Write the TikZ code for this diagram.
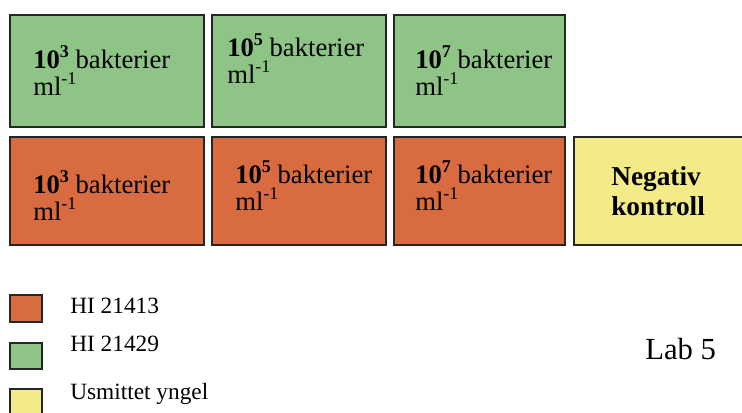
\documentclass[tikz,border=0pt]{standalone}
\usepackage{fontspec}
\setmainfont{Liberation Serif}
\usetikzlibrary{positioning}

\definecolor{greenfill}{RGB}{142,197,135}
\definecolor{orangefill}{RGB}{217,107,64}
\definecolor{yellowfill}{RGB}{242,235,135}

% raised small figure
\newcommand{\upfig}[1]{\raisebox{0.4em}{\fontsize{13.5}{14}\selectfont #1}}
% one concentration label: x, baseline y, exponent, name
\newcommand{\conclabel}[4]{%
  \node[txt, anchor=base west] (#4a) at (#1,#2) {\textbf{10\upfig{#3}} bakterier};
  \node[txt, anchor=base west] (#4b) at (#1,#2+27) {ml\upfig{-1}};}

\begin{document}
\begin{tikzpicture}[x=0.75pt, y=-0.75pt,
    cell/.style={draw=black!85, line width=1.5pt},
    txt/.style={inner sep=0pt, font=\fontsize{20}{22}\selectfont},
    legtxt/.style={inner sep=0pt, anchor=base west, font=\fontsize{17.5}{19}\selectfont}]
    \useasboundingbox (0,0) rectangle (742,412);
    \clip (0,0) rectangle (742,412);

    % Boxes
    \draw[cell, fill=greenfill] (10,15) rectangle (204,127);
    \draw[cell, fill=greenfill] (212,15) rectangle (386,127);
    \draw[cell, fill=greenfill] (394,15) rectangle (565,127);
    \draw[cell, fill=orangefill] (10,137) rectangle (204,245);
    \draw[cell, fill=orangefill] (212,137) rectangle (386,245);
    \draw[cell, fill=orangefill] (394,137) rectangle (565,245);
    \draw[cell, fill=yellowfill] (574,137) rectangle (760,245);

    % Labels
    \conclabel{33}{68}{3}{ga}
    \conclabel{227}{56}{5}{gb}
    \conclabel{415}{68}{7}{gc}
    \conclabel{33}{193}{3}{oa}
    \conclabel{235}{183}{5}{ob}
    \conclabel{415}{183}{7}{oc}
    \node[txt, anchor=base west, font=\fontsize{20.5}{22}\selectfont\bfseries] (nega) at (611,185) {Negativ};
    \node[txt, anchor=base west, font=\fontsize{20.5}{22}\selectfont\bfseries] (negb) at (611,215) {kontroll};

    % Legend
    \draw[cell, fill=orangefill] (10,295) rectangle (42,322);
    \draw[cell, fill=greenfill] (10,343) rectangle (42,369);
    \draw[cell, fill=yellowfill] (10,389) rectangle (42,420);
    \node[legtxt] (hia) at (70,313) {HI 21413};
    \node[legtxt] (hib) at (70,351) {HI 21429};
    \node[legtxt] (usm) at (70,399) {Usmittet yngel};
    \node[inner sep=0pt, anchor=base west, font=\fontsize{23}{25}\selectfont] (lab) at (645,359) {Lab 5};
\end{tikzpicture}
\end{document}
